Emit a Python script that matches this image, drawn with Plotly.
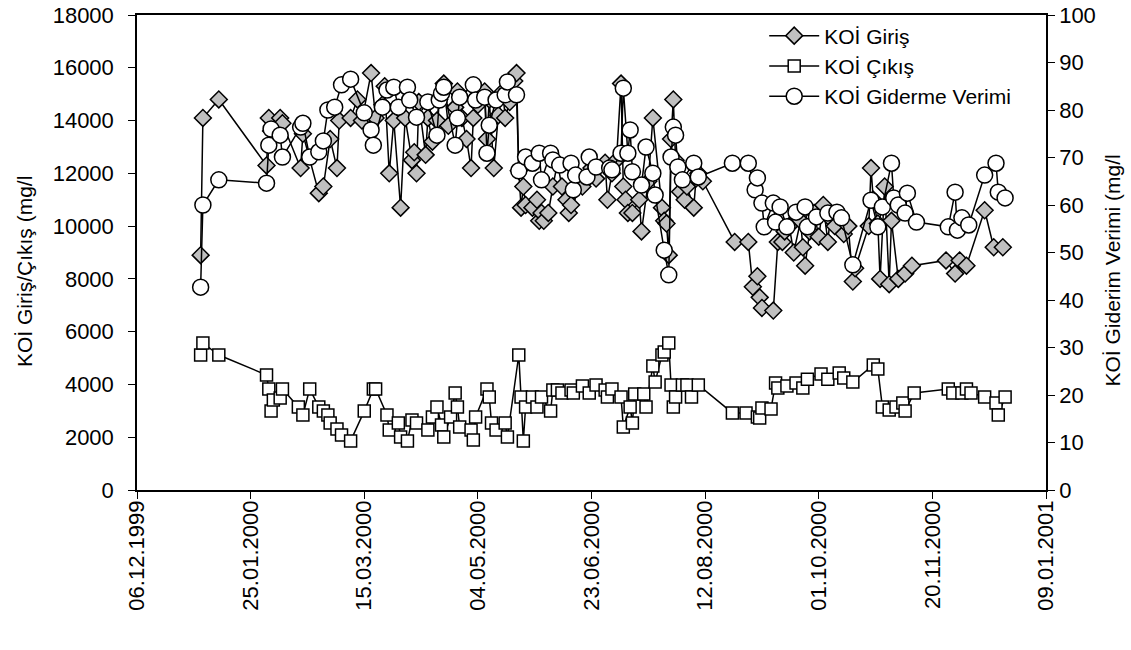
import pandas as pd
import plotly.graph_objects as go

# day-of-year 2000 (1 = 01.01.2000) and values
giris_gun = [3, 4, 11, 32, 33, 34, 38, 39, 47, 48, 55, 57, 60, 63, 64, 69, 72, 74, 78, 80,
             83, 84, 86, 88, 91, 93, 96, 97, 98, 99, 102, 103, 105, 107, 108, 110, 112, 115, 116, 118,
             120, 122, 123, 125, 128, 129, 130, 132, 134, 136, 137, 139, 141, 142, 143, 144, 145, 146, 149, 151,
             152, 153, 154, 156, 158, 160, 162, 164, 165, 166, 171, 175, 177, 181, 182, 184, 186, 188, 189, 190,
             191, 193, 196, 197, 200, 202, 206, 207, 208, 209, 210, 211, 212, 214, 216, 217, 220, 221, 222, 224,
             238, 244, 246, 248, 249, 250, 255, 257, 259, 260, 262, 264, 267, 268, 269, 271, 273, 275, 277, 279,
             280, 282, 284, 286, 288, 290, 291, 297, 298, 299, 301, 302, 304, 306, 307, 310, 313, 316, 331, 335,
             337, 340, 348, 352, 356]
giris = [8900, 14100, 14800, 12300, 14100, 13600, 14100, 13900, 12200, 13500, 11250, 11500, 13300, 12200, 14000, 14100, 14800, 14000, 15800, 14100,
         14600, 15300, 12000, 14000, 10700, 14100, 12500, 12800, 12000, 14700, 12700, 14100, 13200, 14000, 14800, 15400, 13800, 14500, 15100, 14100,
         13300, 12200, 14100, 14600, 15100, 13300, 14800, 12200, 14200, 15100, 14100, 14700, 15500, 15800, 12100, 10700, 11500, 10800, 10700, 11000,
         10200, 10500, 10200, 10500, 11500, 12400, 11500, 11000, 10500, 10800, 11500, 12200, 11800, 12400, 11000, 12000, 12500, 15400, 11500, 11000,
         10500, 10500, 11000, 9800, 11700, 14100, 10700, 10200, 10100, 8900, 13300, 14800, 12500, 11300, 11000, 11500, 10700, 11800, 12000, 11700,
         9400, 9400, 7700, 8100, 7300, 6900, 6800, 9400, 9400, 9800, 10000, 9000, 10200, 9200, 8500, 9800, 10500, 9600, 10800, 9400,
         10300, 10000, 10400, 9700, 10000, 7900, 8400, 10000, 12200, 11000, 10100, 8000, 11500, 7800, 10200, 8000, 8200, 8500, 8700, 8200,
         8700, 8500, 10600, 9200, 9200]

cikis_gun = [3, 4, 11, 32, 33, 34, 35, 38, 39, 46, 48, 51, 55, 57, 59, 60, 63, 65, 69, 75,
             79, 80, 85, 86, 90, 91, 94, 96, 98, 103, 105, 107, 109, 110, 113, 115, 116, 117, 122, 123,
             124, 129, 130, 131, 133, 137, 138, 143, 144, 145, 146, 149, 151, 153, 157, 158, 160, 162, 166, 167,
             171, 174, 177, 181, 182, 184, 188, 189, 192, 193, 194, 198, 199, 202, 203, 206, 207, 209, 210, 211,
             212, 215, 217, 219, 222, 237, 243, 248, 249, 250, 254, 256, 257, 261, 265, 268, 270, 276, 279, 284,
             286, 290, 299, 301, 303, 306, 309, 312, 313, 317, 332, 334, 338, 340, 342, 348, 353, 354, 357]
cikis = [5115, 5570, 5115, 4360, 3830, 2990, 3410, 3490, 3830, 3145, 2840, 3830, 3145, 2990, 2840, 2540, 2310, 2080, 1860, 2990,
         3830, 3830, 2840, 2270, 2540, 2010, 1860, 2650, 2540, 2270, 2770, 3145, 2460, 2010, 2770, 3680, 3145, 2390, 2270, 1895,
         2770, 3830, 3525, 2540, 2270, 2540, 2010, 5115, 3525, 1860, 3145, 3525, 3145, 3525, 2990, 3790, 3790, 3680, 3790, 3680,
         3940, 3680, 3980, 3790, 3525, 3830, 3525, 2390, 3145, 2540, 3640, 3640, 3145, 4700, 4090, 5115, 5230, 5570, 3980, 3145,
         3525, 3980, 3980, 3525, 3980, 2920, 2920, 2770, 2730, 3110, 3070, 4055, 3870, 3940, 4055, 3870, 4200, 4400, 4200, 4430,
         4240, 4090, 4740, 4590, 3145, 3030, 3145, 3300, 2990, 3680, 3830, 3680, 3680, 3830, 3680, 3525, 3300, 2840, 3525]

verim_gun = [3, 4, 11, 32, 33, 34, 38, 39, 47, 48, 51, 55, 57, 59, 62, 65, 69, 75, 78, 79,
             83, 85, 88, 90, 94, 95, 98, 103, 107, 108, 109, 110, 115, 116, 117, 123, 124, 128, 129, 130,
             133, 137, 138, 142, 143, 146, 149, 152, 153, 157, 158, 161, 166, 167, 168, 173, 174, 177, 183, 184,
             188, 189, 191, 192, 193, 197, 199, 202, 203, 207, 209, 210, 211, 212, 213, 215, 220, 222, 237, 244,
             247, 248, 250, 251, 255, 256, 258, 261, 265, 269, 270, 274, 279, 283, 285, 290, 298, 301, 303, 307,
             308, 310, 313, 314, 318, 332, 335, 336, 338, 341, 348, 353, 354, 357]
verim = [42.7, 60.0, 65.3, 64.6, 72.6, 76.0, 74.7, 70.1, 76.4, 77.2, 70.1, 71.2, 73.5, 80.0, 80.6, 85.3, 86.5, 79.4, 75.8, 72.6,
         80.6, 84.2, 84.8, 80.6, 84.8, 82.1, 78.5, 81.7, 74.7, 82.1, 83.5, 84.8, 72.6, 78.3, 82.7, 85.3, 82.1, 82.7, 70.9, 76.8,
         82.1, 83.2, 85.9, 83.2, 67.2, 70.1, 68.8, 70.9, 65.3, 70.9, 69.5, 68.4, 68.8, 63.2, 66.3, 65.9, 70.1, 68.0, 67.8, 67.4,
         70.9, 84.6, 70.9, 75.8, 67.0, 64.2, 72.2, 66.7, 62.1, 50.5, 45.3, 70.1, 76.4, 74.7, 68.0, 65.3, 68.8, 65.9, 68.8, 68.8,
         63.2, 65.7, 60.4, 55.4, 60.4, 56.4, 59.6, 55.4, 58.5, 59.6, 55.4, 57.5, 58.3, 58.5, 57.3, 47.4, 61.0, 55.4, 59.6, 68.8,
         61.5, 60.0, 58.3, 62.5, 56.4, 55.4, 62.7, 54.7, 57.3, 55.8, 66.3, 68.8, 62.7, 61.5]

tick_labels = ["06.12.1999", "25.01.2000", "15.03.2000", "04.05.2000", "23.06.2000",
               "12.08.2000", "01.10.2000", "20.11.2000", "09.01.2001"]
y_title_left = "KOİ Giriş/Çıkış (mg/l"
y_title_right = "KOİ Giderim Verimi (mg/l"

base = pd.Timestamp("2000-01-01")
def to_dates(days):
    return [base + pd.Timedelta(days=d - 1) for d in days]

tickvals = pd.to_datetime(tick_labels, format="%d.%m.%Y")

FONT = "Liberation Sans, Arial, sans-serif"
fig = go.Figure()
fig.add_trace(go.Scatter(
    x=to_dates(giris_gun), y=giris, name="KOİ Giriş", mode="lines+markers",
    line=dict(color="black", width=1.5),
    marker=dict(symbol="diamond", size=13, color="#c0c0c0", line=dict(color="black", width=1.5))))
fig.add_trace(go.Scatter(
    x=to_dates(cikis_gun), y=cikis, name="KOİ Çıkış", mode="lines+markers",
    line=dict(color="black", width=1.5),
    marker=dict(symbol="square", size=12, color="white", line=dict(color="black", width=1.5))))
fig.add_trace(go.Scatter(
    x=to_dates(verim_gun), y=verim, name="KOİ Giderme Verimi", mode="lines+markers", yaxis="y2",
    line=dict(color="black", width=1.5),
    marker=dict(symbol="circle", size=16, color="white", line=dict(color="black", width=1.5))))

fig.update_layout(
    width=1131, height=650,
    margin=dict(l=137, r=85, t=15, b=160, autoexpand=False),
    paper_bgcolor="white", plot_bgcolor="white",
    font=dict(family=FONT, size=22, color="black"),
    showlegend=True,
    legend=dict(x=0.69, y=0.999, xanchor="left", yanchor="top", bgcolor="white",
                font=dict(size=21, family=FONT), itemwidth=50),
    xaxis=dict(range=[tickvals[0], tickvals[-1]], tickvals=tickvals, ticktext=tick_labels,
               tickangle=-90, showgrid=False, showline=True, linecolor="black", linewidth=1.5,
               mirror=True, ticks="outside", ticklen=7, tickcolor="black", automargin=False,
               ticklabelstandoff=-7,
               tickfont=dict(size=22, family=FONT), zeroline=False),
    yaxis=dict(range=[0, 18000], dtick=2000, tickformat="d", showgrid=False, showline=True,
               linecolor="black", linewidth=1.5, ticks="outside", ticklen=7, tickcolor="black",
               zeroline=False, automargin=False, ticklabelstandoff=10,
               tickfont=dict(size=22, family=FONT)),
    yaxis2=dict(range=[0, 100], dtick=10, overlaying="y", side="right", showgrid=False,
                showline=True, linecolor="black", linewidth=1.5, ticks="outside", ticklen=7,
                tickcolor="black", zeroline=False, automargin=False,
                tickfont=dict(size=22, family=FONT)),
    annotations=[
        dict(text=y_title_left, xref="paper", yref="paper", x=-0.1232, y=0.459,
             textangle=-90, showarrow=False, font=dict(size=21, family=FONT),
             xanchor="center", yanchor="middle"),
        dict(text=y_title_right, xref="paper", yref="paper", x=1.0737, y=0.462,
             textangle=-90, showarrow=False, font=dict(size=21, family=FONT),
             xanchor="center", yanchor="middle"),
    ],
)

fig.write_html("out.html", config={"displayModeBar": False},
               post_script="document.body.style.margin='0';document.body.style.overflow='hidden';")
